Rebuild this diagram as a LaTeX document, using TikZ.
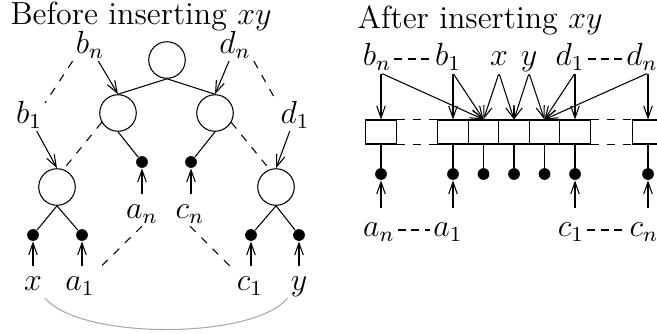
\documentclass[tikz,border=0pt]{standalone}
\usepackage{amsmath,tikz}
\usetikzlibrary{arrows.meta}
\definecolor{Arc}{HTML}{A8A8A8}
\tikzset{knot/.style={circle,draw,minimum size=13.7pt,inner sep=0pt},leaf/.style={circle,fill,minimum size=4.4pt,inner sep=0pt},cell/.style={draw,minimum width=11.45pt,minimum height=9pt,inner sep=0pt},lab/.style={inner sep=1pt,text height=1.5ex,text depth=.4ex},arr/.style={-{Straight Barb[length=4.5pt,width=3.2pt]}},ptr/.style={dash pattern=on 3pt off 2pt},ttl/.style={anchor=base west,inner sep=0pt}}
\begin{document}
\begin{tikzpicture}[x=0.375pt,y=-0.375pt,font=\large]
\useasboundingbox (0,0) rectangle (657,333);
% before
\node[ttl] (t1) at (10,24) {Before inserting $xy$};
\node[knot] (root) at (167,60) {};
\node[knot] (l) at (118,113) {};
\node[knot] (r) at (215,113) {};
\node[knot] (ll) at (57,187) {};
\node[knot] (rr) at (276,187) {};
\foreach \n/\x/\y in {dan/142/162,dcn/191/162,dx/33/235,da1/82/235,dc1/251/235,dy/299/235}{\node[leaf] (\n) at (\x,\y) {};}
\draw (root.south)--(l.north) (root.south)--(r.north) (l.south)--(dan) (r.south)--(dcn);
\draw (ll.south)--(dx) (ll.south)--(da1) (rr.south)--(dc1) (rr.south)--(dy);
\node[lab] (bn) at (90,47) {$b_n$};
\node[lab] (dn) at (235,47) {$d_n$};
\node[lab] (b1) at (29,117) {$b_1$};
\node[lab] (d1) at (295,117) {$d_1$};
\node[lab] (an) at (142,212) {$a_n$};
\node[lab] (cn) at (190,212) {$c_n$};
\node[lab] (x) at (33,284) {$x$};
\node[lab] (a1) at (80,284) {$a_1$};
\node[lab] (c1) at (250,284) {$c_1$};
\node[lab] (y) at (299,284) {$y$};
\draw[arr] (bn)--(l.north);
\draw[arr] (dn)--(r.north);
\draw[arr] (b1)--(ll.north);
\draw[arr] (d1)--(rr.north);
\foreach \a/\b in {an/dan,cn/dcn,x/dx,a1/da1,c1/dc1,y/dy}{\draw[arr,shorten <=1.5pt] (\a.north -| \b)--(\b);}
\draw[dashed] (bn.south west)--(b1.north east) (dn.south east)--(d1.north west);
\draw[dashed] (l.210)--(ll.70) (r.330)--(rr.110);
\draw[dashed] (an.south)--(a1.north east) (cn.south)--(c1.north west);
\draw[Arc] (x.south east) .. controls (80,340) and (253,340) .. (y.south west);
% after
\node[ttl] (t2) at (357,28) {After inserting $xy$};
\foreach \n/\x in {1/381,2/453,3/483.5,4/514,5/544.5,6/575,7/648}{
  \node[cell] (k\n) at (\x,132) {};
  \node[leaf] (p\n) at (\x,174) {};
  \draw (k\n)--(p\n);
}
\draw[dashed] (k1.north east)--(k2.north west) (k1.south east)--(k2.south west);
\draw[dashed] (k6.north east)--(k7.north west) (k6.south east)--(k7.south west);
\node[lab] (bn2) at (377,59) {$b_n$};
\node[lab] (b12) at (448,59) {$b_1$};
\node[lab] (x2) at (499,59) {$x$};
\node[lab] (y2) at (529,59) {$y$};
\node[lab] (d12) at (570,59) {$d_1$};
\node[lab] (dn2) at (642,59) {$d_n$};
\draw[ptr] (bn2)--(b12) (d12)--(dn2);
\begin{scope}[arr,shorten <=0.5pt]
\draw (bn2.south -| k1)--(k1.north); \draw (bn2.south -| k1)--(k3.north);
\draw (b12.south -| k2)--(k2.north); \draw (b12.south -| k2)--(k3.north);
\draw (x2.south)--(k3.north); \draw (x2.south)--(k4.north);
\draw (y2.south)--(k4.north); \draw (y2.south)--(k5.north);
\draw (d12.south -| k6)--(k6.north); \draw (d12.south -| k6)--(k5.north);
\draw (dn2.south -| k7)--(k7.north); \draw (dn2.south -| k7)--(k5.north);
\end{scope}
\node[lab] (an2) at (379,230) {$a_n$};
\node[lab] (a12) at (448,230) {$a_1$};
\node[lab] (c12) at (571,230) {$c_1$};
\node[lab] (cn2) at (644,230) {$c_n$};
\draw[ptr] (an2)--(a12) (c12)--(cn2);
\foreach \a/\b in {an2/p1,a12/p2,c12/p6,cn2/p7}{\draw[arr,shorten <=3pt] (\a.north -| \b)--(\b);}
\end{tikzpicture}
\end{document}
